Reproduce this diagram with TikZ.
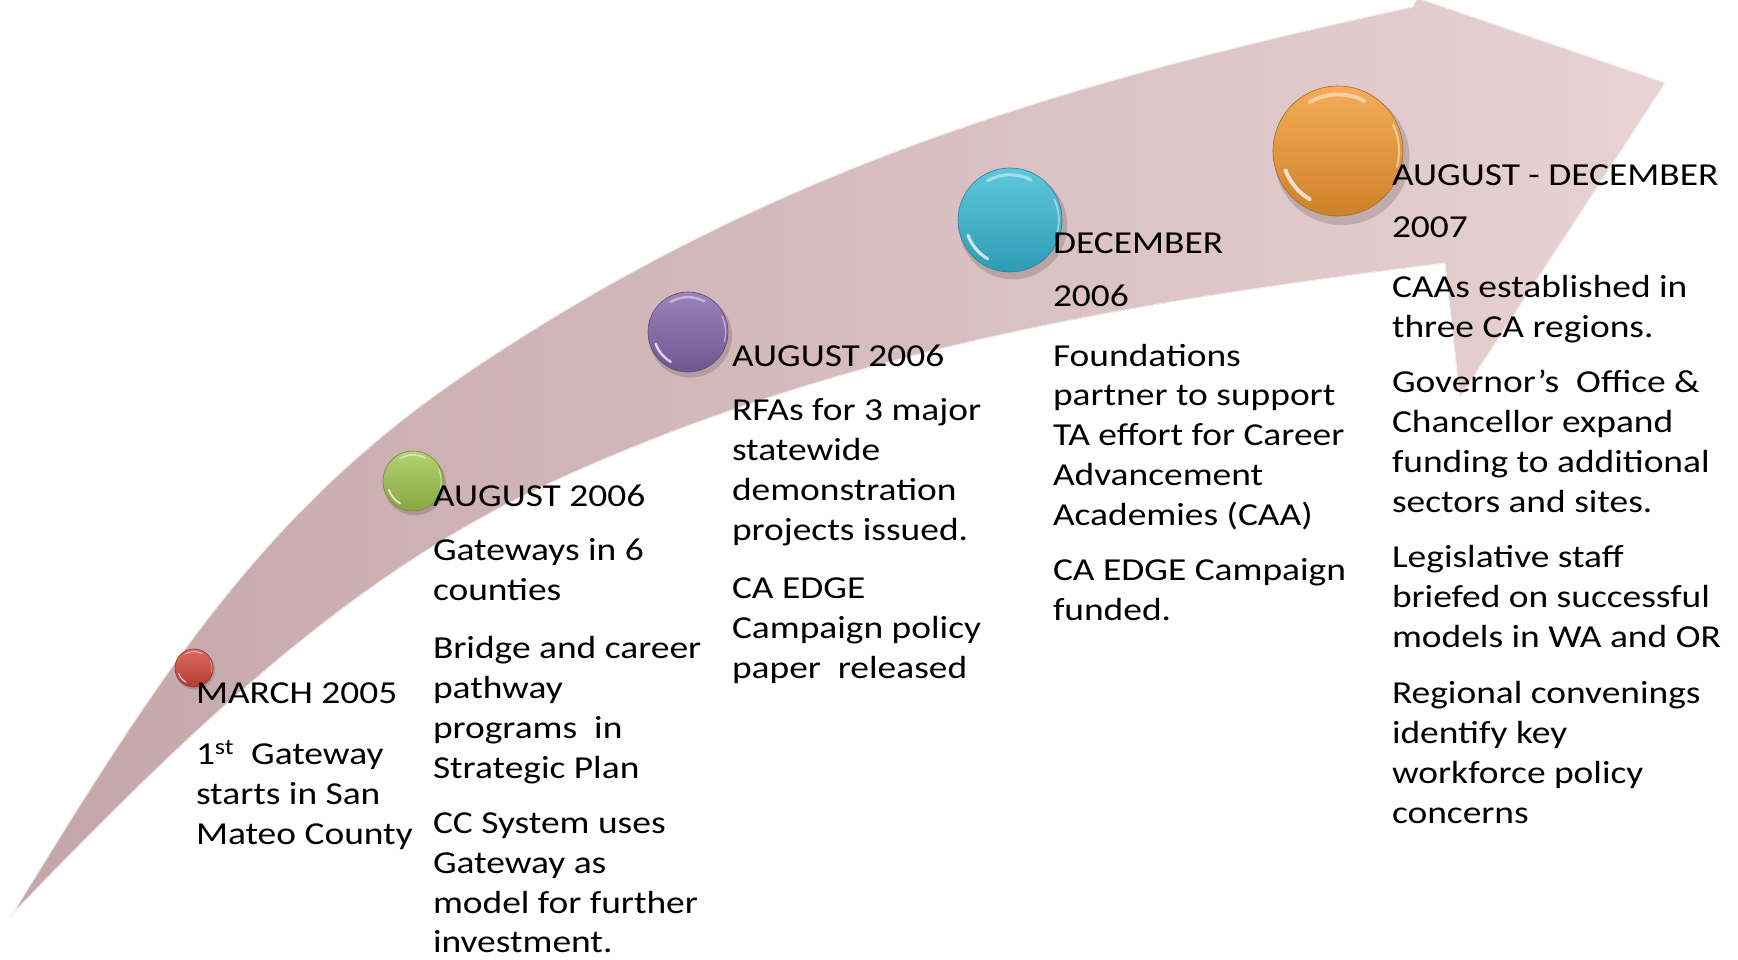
\documentclass[tikz,border=0pt]{standalone}
\usepackage{fontspec}
\setmainfont{Carlito}[FakeStretch=1.17]
\definecolor{arrL}{RGB}{196,166,169}
\definecolor{arrR}{RGB}{232,210,212}
\definecolor{bred}{RGB}{212,70,60}
\definecolor{bgreen}{RGB}{160,198,78}
\definecolor{bpurple}{RGB}{132,100,170}
\definecolor{bcyan}{RGB}{55,184,213}
\definecolor{borange}{RGB}{242,152,48}
\tikzset{
  txt/.style={anchor=base west, inner sep=0pt, outer sep=0pt, font=\fontsize{32}{40}\selectfont, text=black},
  ballnode/.style={circle, inner sep=0pt, top color=#1!80!white, bottom color=#1!85!black, draw=#1!70!black, line width=0.6pt}
}
% name, x, y, r, colour
\newcommand\glossball[5]{%
  \begin{scope}[shift={(#2,#3)}, x=1pt, y=1pt]
    \fill[black, opacity=0.15] (0.06*#4,-0.1*#4) circle[radius=1.04*#4];
    \node[ballnode=#5, minimum size={2*#4pt}] (#1) at (0,0) {};
    \draw[white, opacity=0.45, line width={0.06*#4pt}, line cap=round] (62:0.87*#4) arc[start angle=62, end angle=120, radius=0.87*#4];
    \draw[white, opacity=0.75, line width={0.06*#4pt}, line cap=round] (200:0.86*#4) arc[start angle=200, end angle=240, radius=0.86*#4];
    \draw[white, opacity=0.45, line width={0.035*#4pt}, line cap=round] (-15:0.94*#4) arc[start angle=-15, end angle=25, radius=0.94*#4];
  \end{scope}}
\begin{document}
\begin{tikzpicture}[x=1pt,y=-1pt]
\useasboundingbox (0,0) rectangle (1738,959);
\begin{scope}
  \clip (0,0) rectangle (1738,959);
  \fill[left color=arrL, right color=arrR, draw=white!55!arrR, line width=1pt]
    (10,918) .. controls (157,679) and (260,513) .. (467,373)
    .. controls (765,171) and (1061,83) .. (1413,7)
    -- (1417,-2) -- (1665,83) -- (1460,397) -- (1445,263)
    .. controls (1149,300) and (850,345) .. (550,483)
    .. controls (341,579) and (174,747) .. (13,913)
    -- cycle;
\end{scope}

\glossball{b1}{194}{668}{19}{bred}
\glossball{b2}{413}{481}{30}{bgreen}
\glossball{b3}{688}{332}{40}{bpurple}
\glossball{b4}{1010}{220}{52}{bcyan}
\glossball{b5}{1338}{151}{65}{borange}

\foreach \yy/\lbl [count=\n] in {703/{MARCH 2005}, 764/{1\textsuperscript{st}\ \ Gateway}, 804/{starts in San}, 844/{Mateo County}}
  \node[txt] (a\n) at (196,\yy) {\lbl};

\foreach \yy/\lbl [count=\n] in {506/{AUGUST 2006}, 560/{Gateways in 6}, 600/{counties}, 658/{Bridge and career}, 698/{pathway}, 738/{programs\ \ in}, 778/{Strategic Plan}, 833/{CC System uses}, 873/{Gateway as}, 913/{model for further}, 952/{investment.}}
  \node[txt] (b\n) at (433,\yy) {\lbl};

\foreach \yy/\lbl [count=\n] in {366/{AUGUST 2006}, 420/{RFAs for 3 major}, 460/{statewide}, 500/{demonstration}, 540/{projects issued.}, 598/{CA EDGE}, 638/{Campaign policy}, 678/{paper\ \ released}}
  \node[txt] (c\n) at (732,\yy) {\lbl};

\foreach \yy/\lbl [count=\n] in {253/{DECEMBER}, 306/{2006}, 366/{Foundations}, 405/{partner to support}, 445/{TA effort for Career}, 485/{Advancement}, 525/{Academies (CAA)}, 580/{CA EDGE Campaign}, 620/{funded.}}
  \node[txt] (d\n) at (1053,\yy) {\lbl};

\foreach \yy/\lbl [count=\n] in {185/{AUGUST - DECEMBER}, 237/{2007}, 297/{CAAs established in}, 337/{three CA regions.}, 392/{Governor’s\ \ Office \&}, 432/{Chancellor expand}, 472/{funding to additional}, 512/{sectors and sites.}, 567/{Legislative staff}, 607/{briefed on successful}, 647/{models in WA and OR}, 703/{Regional convenings}, 743/{identify key}, 783/{workforce policy}, 823/{concerns}}
  \node[txt] (e\n) at (1392,\yy) {\lbl};
\end{tikzpicture}
\end{document}
